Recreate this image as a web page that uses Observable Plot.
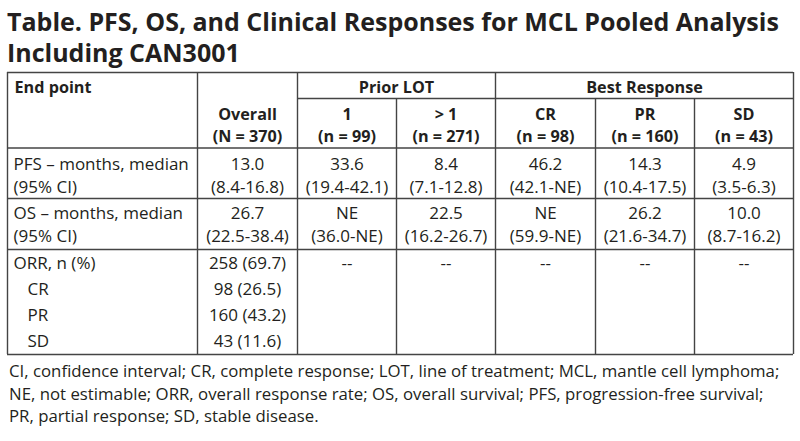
<!DOCTYPE html>
<html>
<head>
<meta charset="utf-8">
<script src="https://cdn.jsdelivr.net/npm/d3@7"></script>
<script src="https://cdn.jsdelivr.net/npm/@observablehq/plot@0.6"></script>
<style>
  html, body { margin: 0; padding: 0; background: #fff; }
  body { width: 800px; height: 441px; overflow: hidden; font-family: "Open Sans", sans-serif; color: #231f20; }
  #title { height: 60px; padding: 5.5px 0 0 7px; box-sizing: border-box; font-size: 25px; font-weight: 700; line-height: 31px; white-space: nowrap; overflow: visible; }
  #chart { height: 300px; }
  #caption { padding-left: 9px; font-size: 16.8px; line-height: 22.5px; white-space: nowrap; }
</style>
</head>
<body>
<div id="title">Table. PFS, OS, and Clinical Responses for MCL Pooled Analysis<br>Including CAN3001</div>
<div id="chart"></div>
<div id="caption">CI, confidence interval; CR, complete response; LOT, line of treatment; MCL, mantle cell lymphoma;<br>NE, not estimable; ORR, overall response rate; OS, overall survival; PFS, progression-free survival;<br>PR, partial response; SD, stable disease.</div>
<script>
// ---- data ----
const groups = ["Prior LOT", "Best Response"];
const columns = ["Overall", "1", "> 1", "CR", "PR", "SD"];
const columnN = ["(N = 370)", "(n = 99)", "(n = 271)", "(n = 98)", "(n = 160)", "(n = 43)"];
const stubHeader = "End point";
const pfsLabel = ["PFS – months, median", "(95% CI)"];
const pfsMedian = ["13.0", "33.6", "8.4", "46.2", "14.3", "4.9"];
const pfsCI = ["(8.4-16.8)", "(19.4-42.1)", "(7.1-12.8)", "(42.1-NE)", "(10.4-17.5)", "(3.5-6.3)"];
const osLabel = ["OS – months, median", "(95% CI)"];
const osMedian = ["26.7", "NE", "22.5", "NE", "26.2", "10.0"];
const osCI = ["(22.5-38.4)", "(36.0-NE)", "(16.2-26.7)", "(59.9-NE)", "(21.6-34.7)", "(8.7-16.2)"];
const orrLabels = ["ORR, n (%)", "CR", "PR", "SD"];
const orrOverall = ["258 (69.7)", "98 (26.5)", "160 (43.2)", "43 (11.6)"];
const orrOthers = ["--", "--", "--", "--", "--"];

// ---- layout (pixels in the table's own coordinate space) ----
const colEdges = [7, 197, 297, 396, 495, 595, 694, 793];
const yTop = 12, ySub = 38, yHead = 87.5, yPfs = 138, yOs = 189, yBottom = 294;
const groupSpan = [[2, 4], [4, 7]];
const stubX = 13, indentX = 27;
const colCenter = i => (colEdges[i + 1] + colEdges[i + 2]) / 2;

const left = [], center = [], leftBold = [], centerBold = [];
leftBold.push({x: stubX + 1, y: 27, t: stubHeader});
groups.forEach((g, i) => centerBold.push({x: (colEdges[groupSpan[i][0]] + colEdges[groupSpan[i][1]]) / 2, y: 27, t: g}));
columns.forEach((c, i) => {
  centerBold.push({x: colCenter(i), y: 54, t: c});
  centerBold.push({x: colCenter(i), y: 76.5, t: columnN[i]});
});
pfsLabel.forEach((t, k) => left.push({x: stubX, y: 104 + 23 * k, t}));
osLabel.forEach((t, k) => left.push({x: stubX, y: 153 + 23 * k, t}));
columns.forEach((c, i) => {
  center.push({x: colCenter(i), y: 104, t: pfsMedian[i]});
  center.push({x: colCenter(i), y: 127, t: pfsCI[i]});
  center.push({x: colCenter(i), y: 153, t: osMedian[i]});
  center.push({x: colCenter(i), y: 176, t: osCI[i]});
});
const orrY = [203, 229, 255, 281];
orrLabels.forEach((t, k) => left.push({x: k === 0 ? stubX : indentX, y: orrY[k], t}));
orrOverall.forEach((t, k) => center.push({x: colCenter(0), y: orrY[k], t}));
orrOthers.forEach((t, i) => center.push({x: colCenter(i + 1), y: orrY[0], t}));

const hLines = [
  {x1: colEdges[0], x2: colEdges[7], y: yTop},
  {x1: colEdges[2], x2: colEdges[7], y: ySub},
  {x1: colEdges[0], x2: colEdges[7], y: yHead},
  {x1: colEdges[0], x2: colEdges[7], y: yPfs},
  {x1: colEdges[0], x2: colEdges[7], y: yOs},
  {x1: colEdges[0], x2: colEdges[7], y: yBottom}
];
const fullV = [0, 1, 2, 4, 7];
const vLines = colEdges.map((x, i) => ({x, y1: fullV.includes(i) ? yTop : ySub, y2: yBottom}));

const lineColor = "#444";
const ink = "#231f20";
const fs = 17, fsBold = 16.2;
const chart = Plot.plot({
  width: 800,
  height: 300,
  margin: 0,
  x: {domain: [0, 800], range: [0, 800], axis: null},
  y: {domain: [0, 300], range: [0, 300], axis: null},
  style: {fontFamily: "'Open Sans', sans-serif", color: ink, background: "#fff", overflow: "visible"},
  marks: [
    Plot.ruleY(hLines, {x1: "x1", x2: "x2", y: "y", stroke: lineColor, strokeWidth: 1.4}),
    Plot.ruleX(vLines, {x: "x", y1: "y1", y2: "y2", stroke: lineColor, strokeWidth: 1.4}),
    Plot.text(left, {x: "x", y: "y", text: "t", textAnchor: "start", fontSize: fs, fill: ink}),
    Plot.text(center, {x: "x", y: "y", text: "t", textAnchor: "middle", fontSize: fs, fill: ink}),
    Plot.text(leftBold, {x: "x", y: "y", text: "t", textAnchor: "start", fontSize: fsBold, fontWeight: 700, fill: ink}),
    Plot.text(centerBold, {x: "x", y: "y", text: "t", textAnchor: "middle", fontSize: fsBold, fontWeight: 700, fill: ink})
  ]
});
document.getElementById("chart").appendChild(chart);
</script>
</body>
</html>
